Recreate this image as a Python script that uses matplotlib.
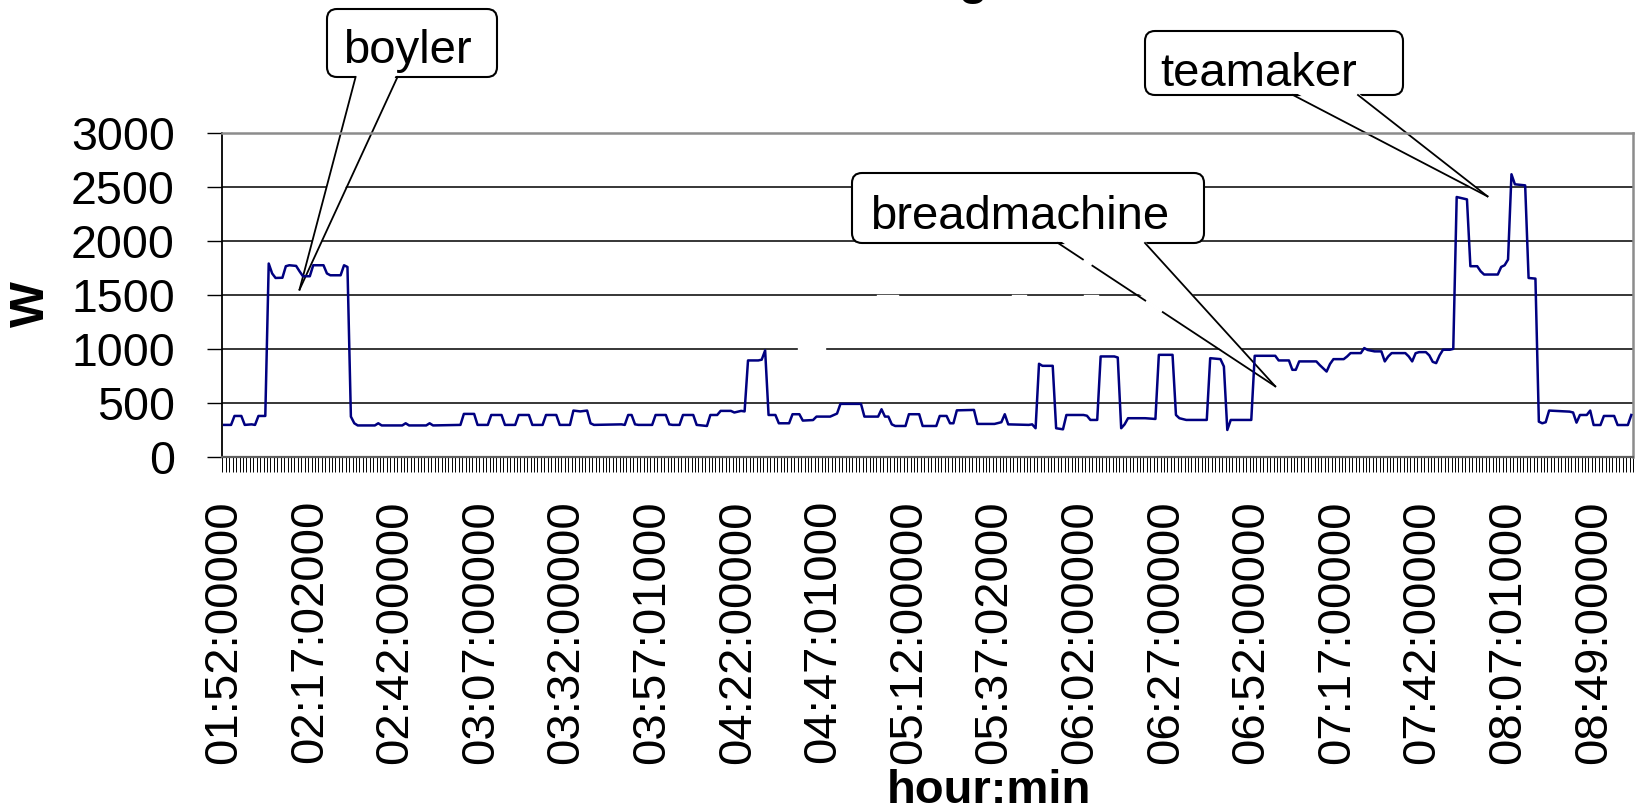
import matplotlib
matplotlib.use("Agg")
import matplotlib.pyplot as plt
from matplotlib.patches import FancyBboxPatch, Polygon
from matplotlib.lines import Line2D
from matplotlib.transforms import Affine2D
from matplotlib.ticker import FixedLocator

plt.rcParams['font.family'] = ['Liberation Sans', 'DejaVu Sans']

# Power trace: sample index (one sample per category) and measured power in W
sample_idx = [0, 2, 3, 5, 6, 8, 9, 10, 12, 13, 14, 15, 17, 18, 19, 21, 22, 23, 25, 26,
              29, 30, 31, 34, 35, 36, 37, 38, 39, 44, 45, 46, 52, 53, 54, 59, 60, 61, 69, 70,
              73, 74, 77, 78, 81, 82, 85, 86, 89, 90, 93, 94, 97, 98, 101, 102, 104, 106, 107, 108,
              116, 117, 118, 119, 120, 121, 125, 126, 129, 130, 131, 133, 134, 137, 138, 141, 142, 144, 145, 148,
              149, 151, 152, 153, 156, 157, 158, 159, 161, 162, 165, 166, 168, 169, 172, 173, 177, 179, 180, 186,
              187, 191, 192, 193, 194, 195, 196, 199, 200, 203, 204, 208, 209, 211, 212, 213, 214, 219, 220, 225,
              227, 228, 229, 235, 236, 237, 238, 239, 242, 243, 245, 246, 251, 252, 253, 255, 256, 260, 261, 262,
              263, 264, 269, 272, 273, 277, 278, 279, 281, 287, 288, 291, 292, 293, 294, 300, 301, 307, 308, 311,
              312, 313, 314, 319, 320, 322, 323, 324, 327, 328, 329, 332, 333, 334, 336, 338, 339, 340, 341, 345,
              346, 347, 348, 349, 351, 352, 353, 354, 355, 356, 358, 359, 360, 363, 364, 366, 367, 368, 372, 373,
              374, 375, 376, 377, 380, 381, 383, 384, 385, 386, 387, 393, 394, 395, 396, 398, 399, 400, 402, 403,
              406, 407, 410, 411]
power_w = [295, 295, 378, 378, 295, 300, 295, 378, 378, 1792, 1700, 1658, 1660, 1767, 1776, 1770, 1720, 1674, 1674, 1776,
           1776, 1700, 1683, 1683, 1776, 1760, 372, 310, 290, 290, 310, 290, 290, 310, 290, 290, 310, 290, 295, 397,
           397, 295, 295, 387, 387, 295, 295, 387, 387, 295, 295, 387, 387, 295, 295, 428, 420, 428, 310, 295,
           300, 295, 387, 387, 300, 295, 295, 387, 387, 300, 295, 295, 387, 387, 295, 285, 387, 387, 425, 425,
           410, 425, 420, 893, 893, 900, 986, 387, 387, 310, 310, 394, 394, 335, 340, 372, 372, 400, 490, 490,
           372, 372, 440, 372, 372, 300, 285, 285, 394, 394, 285, 285, 378, 378, 310, 310, 430, 434, 304, 304,
           320, 394, 300, 295, 300, 264, 862, 843, 843, 264, 254, 387, 387, 380, 341, 341, 930, 930, 920, 264,
           300, 357, 357, 350, 945, 945, 387, 357, 341, 341, 914, 905, 837, 248, 341, 341, 936, 936, 893, 893,
           806, 806, 884, 884, 850, 790, 860, 905, 905, 930, 961, 961, 1008, 990, 977, 977, 884, 930, 961, 961,
           930, 884, 960, 970, 970, 940, 880, 868, 940, 992, 992, 1000, 2409, 2387, 1767, 1767, 1720, 1690, 1690, 1760,
           1776, 1829, 2620, 2527, 2517, 1658, 1652, 325, 310, 320, 428, 418, 410, 316, 387, 387, 428, 294, 294, 378,
           378, 294, 294, 387]

n_samples = 412
label_step = 25
time_labels = ["01:52:00000", "02:17:02000", "02:42:00000", "03:07:00000", "03:32:00000",
               "03:57:01000", "04:22:00000", "04:47:01000", "05:12:00000", "05:37:02000",
               "06:02:00000", "06:27:00000", "06:52:00000", "07:17:00000", "07:42:00000",
               "08:07:01000", "08:49:00000"]
y_ticks = [0, 500, 1000, 1500, 2000, 2500, 3000]

# Appliance callouts: text and the (sample, W) point each one marks
callout_text = ["boyler", "breadmachine", "teamaker"]
callout_idx = [22, 307, 369]
callout_w = [1550, 653, 2415]

W, H = 1638, 809
fig = plt.figure(figsize=(W / 100, H / 100), dpi=100)
fig.patch.set_facecolor('white')
ax = fig.add_axes([222.5 / W, 1 - 456.7 / H, 1410.5 / W, 323.4 / H])

ax.set_xlim(-0.5, n_samples - 0.5)
ax.set_ylim(0, 3000)

for v in y_ticks[1:-1]:
    ax.axhline(v, color='black', lw=1.1, zorder=1)

ax.plot(sample_idx, power_w, color='#000080', lw=1.8, zorder=4)

# axes frame
for side in ('top', 'right'):
    ax.spines[side].set_color('#8c8c8c')
    ax.spines[side].set_linewidth(1.8)
ax.spines['left'].set_color('black')
ax.spines['left'].set_linewidth(1.3)
ax.spines['bottom'].set_color('#606060')
ax.spines['bottom'].set_linewidth(1.6)

ax.set_yticks(y_ticks)
ax.set_yticklabels([str(v) for v in y_ticks])
ax.tick_params(axis='y', direction='out', length=10.8, width=1.0, pad=23.4,
               labelsize=33.5, color='black')

ax.set_xticks(list(range(0, label_step * len(time_labels), label_step)))
ax.set_xticklabels(time_labels, rotation=90, fontsize=34)
ax.tick_params(axis='x', which='major', length=0, pad=31.2)
ax.xaxis.set_minor_locator(FixedLocator([i - 0.5 for i in range(n_samples + 1)]))
ax.tick_params(axis='x', which='minor', direction='out', length=10.8, width=0.7, color='black')

fig.text(31.5 / W, 1 - 304 / H, "W", rotation=90, ha='center', va='center',
         fontsize=35, fontweight='bold')
fig.text(988.5 / W, 1 - 803 / H, "hour:min", ha='center', va='baseline',
         fontsize=34, fontweight='bold')
# chart title sits mostly above the top edge
fig.text(972.5 / W, 1 + 6 / H, "g", ha='center', va='baseline',
         fontsize=34, fontweight='bold')

# pixel coordinates with the origin at the top-left corner
pix = Affine2D().scale(1 / W, -1 / H).translate(0, 1) + fig.transFigure

boxes = [(327, 9, 497, 77), (852, 173, 1204, 243), (1145, 31, 1403, 95)]
bases = [(355.6, 397.5), (1058, 1145), (1293, 1358)]
text_pos = [(342.6, 63), (870, 229), (1160, 86)]

for k, label in enumerate(callout_text):
    x0, y0, x1, y1 = boxes[k]
    box = FancyBboxPatch((x0, y0), x1 - x0, y1 - y0,
                         boxstyle="round,pad=0,rounding_size=10",
                         facecolor='white', edgecolor='black', lw=1.5,
                         transform=pix, clip_on=False, zorder=2.1)
    ax.add_artist(box)
    dx, dy = ax.transData.transform((callout_idx[k], callout_w[k]))
    tip = (dx, H - dy)
    bl, br = bases[k]
    wedge = Polygon([(bl + 1, y1 - 3), tip, (br - 1, y1 - 3)], closed=True,
                    facecolor='white', edgecolor='none', transform=pix,
                    clip_on=False, zorder=2.2)
    ax.add_artist(wedge)
    for bx in (bl, br):
        ax.add_artist(Line2D([bx, tip[0]], [y1, tip[1]], color='black', lw=1.3,
                             transform=pix, clip_on=False, zorder=2.3))
    tx, ty = text_pos[k]
    ax.text(tx, ty, label, transform=pix, ha='left', va='baseline',
            fontsize=34, zorder=2.4, clip_on=False)

# small breaks in the gridlines
for xa, xb, yy in [(878, 897, 295.7), (1013, 1025, 295.7), (1085, 1097, 295.7), (799, 824, 348.3)]:
    ax.add_artist(Line2D([xa, xb], [yy, yy], color='white', lw=2.4,
                         transform=pix, clip_on=False, zorder=1.5))
# breaks in the left edge of the breadmachine pointer
bx0, by0 = 1058, 243
dx, dy = ax.transData.transform((callout_idx[1], callout_w[1]))
bx1, by1 = dx, H - dy
for ta, tb in [(0.125, 0.148), (0.412, 0.472)]:
    ax.add_artist(Line2D([bx0 + ta * (bx1 - bx0), bx0 + tb * (bx1 - bx0)],
                         [by0 + ta * (by1 - by0), by0 + tb * (by1 - by0)],
                         color='white', lw=2.6, transform=pix, clip_on=False, zorder=2.35))

fig.savefig('out.png', dpi=100, facecolor='white')
